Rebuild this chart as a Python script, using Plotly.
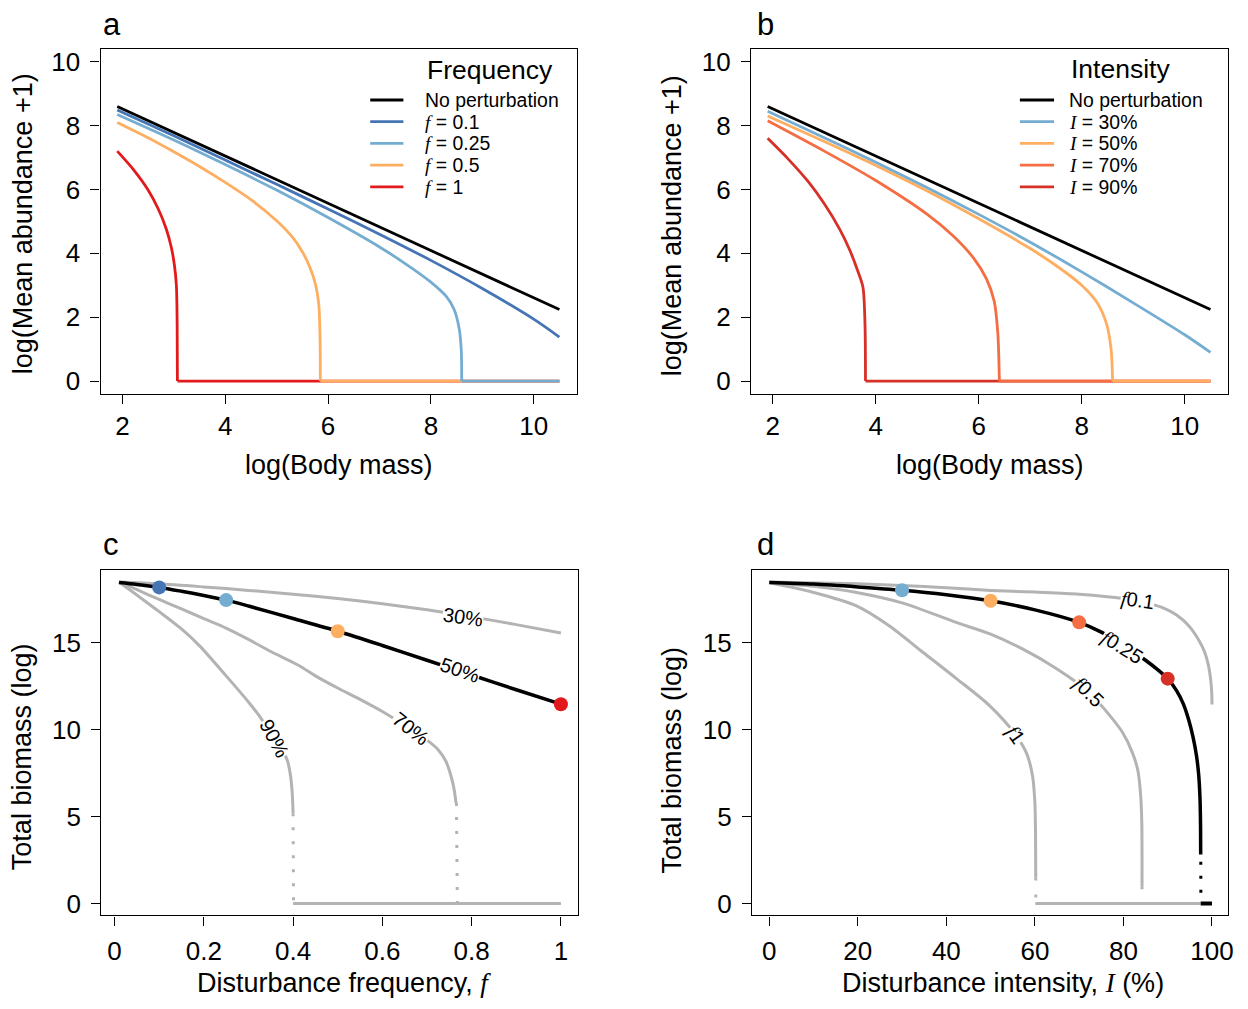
import plotly.graph_objects as go

W, H = 1248, 1009


def px(x):
    return x / W


def py(y):
    return 1 - y / H


# ---------------- Panel a: frequency ----------------
bm_none = [1.9, 10.5]
ab_none = [8.60, 2.24]
bm_f01 = [1.9, 3.0, 4.0, 5.0, 6.0, 7.0, 8.0, 9.0, 10.0, 10.5]
ab_f01 = [8.49, 7.68, 6.92, 6.16, 5.39, 4.60, 3.78, 2.90, 1.94, 1.38]
bm_f025 = [1.9, 3.0, 4.0, 5.0, 6.0, 7.0, 7.5, 8.0, 8.3, 8.45, 8.55, 8.59, 8.6]
ab_f025 = [8.35, 7.55, 6.78, 5.98, 5.12, 4.20, 3.68, 3.10, 2.65, 2.25, 1.65, 1.00, 0.0]
bm_f05 = [1.9, 2.5, 3.0, 3.5, 4.0, 4.5, 5.0, 5.3, 5.5, 5.65, 5.76, 5.82, 5.845, 5.85]
ab_f05 = [8.10, 7.62, 7.18, 6.72, 6.22, 5.68, 5.02, 4.52, 4.05, 3.55, 3.00, 2.40, 1.30, 0.0]
bm_f1 = [1.9, 2.2, 2.5, 2.7, 2.85, 2.95, 3.01, 3.05, 3.065, 3.07]
ab_f1 = [7.20, 6.65, 5.98, 5.38, 4.78, 4.20, 3.65, 3.00, 1.80, 0.0]
bm_f025_zero = [8.6, 10.5]
bm_f05_zero = [5.85, 10.5]
bm_f1_zero = [3.07, 10.5]
ab_zero = [0.0, 0.0]

# ---------------- Panel b: intensity ----------------
bm_i30 = [1.9, 3.0, 4.0, 5.0, 6.0, 7.0, 8.0, 9.0, 10.0, 10.5]
ab_i30 = [8.45, 7.62, 6.85, 6.05, 5.22, 4.35, 3.42, 2.45, 1.45, 0.90]
bm_i50 = [1.9, 3.0, 4.0, 5.0, 6.0, 7.0, 7.5, 8.0, 8.3, 8.48, 8.57, 8.6]
ab_i50 = [8.30, 7.50, 6.75, 5.95, 5.08, 4.15, 3.62, 3.00, 2.45, 1.80, 1.00, 0.0]
bm_i70 = [1.9, 3.0, 4.0, 5.0, 5.5, 5.9, 6.15, 6.3, 6.37, 6.4]
ab_i70 = [8.15, 7.20, 6.28, 5.22, 4.55, 3.85, 3.20, 2.50, 1.50, 0.0]
bm_i90 = [1.9, 2.3, 2.7, 3.0, 3.3, 3.5, 3.65, 3.75, 3.79, 3.8]
ab_i90 = [7.60, 6.95, 6.22, 5.55, 4.75, 4.08, 3.45, 2.95, 1.80, 0.0]
bm_i50_zero = [8.6, 10.5]
bm_i70_zero = [6.4, 10.5]
bm_i90_zero = [3.8, 10.5]

# ---------------- Panel c: biomass vs frequency ----------------
freq_i50 = [0.01, 0.05, 0.1, 0.15, 0.2, 0.25, 0.3, 0.4, 0.5, 0.6, 0.7, 0.8, 0.9, 1.0]
bio_i50 = [18.47, 18.36, 18.19, 17.97, 17.73, 17.46, 17.12, 16.40, 15.67, 14.85, 14.00, 13.15, 12.30, 11.47]
freq_i30 = [0.01, 0.1, 0.2, 0.3, 0.4, 0.5, 0.6, 0.7, 0.8, 0.9, 1.0]
bio_i30 = [18.50, 18.40, 18.22, 18.02, 17.80, 17.55, 17.25, 16.90, 16.50, 16.05, 15.57]
freq_i70 = [0.01, 0.03, 0.06, 0.1, 0.15, 0.2, 0.25, 0.3, 0.35, 0.413, 0.45, 0.5, 0.55, 0.6,
            0.65, 0.7, 0.725, 0.742, 0.752, 0.759, 0.763, 0.765]
bio_i70 = [18.50, 18.30, 17.95, 17.50, 16.95, 16.40, 15.85, 15.20, 14.50, 13.70, 13.10, 12.40,
           11.75, 11.05, 10.25, 9.40, 8.85, 8.20, 7.50, 6.80, 6.20, 5.78]
freq_i90 = [0.01, 0.05, 0.1, 0.15, 0.19, 0.25, 0.3, 0.323, 0.357, 0.375, 0.387, 0.394, 0.398,
            0.4]
bio_i90 = [18.50, 17.75, 16.80, 15.80, 14.84, 13.10, 11.60, 10.84, 9.55, 8.85, 8.25, 7.40, 6.40,
           5.20]
freq_i70_gap = [0.766, 0.768]
bio_i70_gap = [5.78, 0.0]
freq_i90_gap = [0.4, 0.401]
bio_i90_gap = [5.20, 0.0]
freq_zero = [0.4, 1.0]
bio_zero = [0.0, 0.0]
freq_pts = [0.1, 0.25, 0.5, 1.0]
bio_pts = [18.19, 17.46, 15.67, 11.47]

# ---------------- Panel d: biomass vs intensity ----------------
int_f025 = [0, 10, 20, 30, 40, 50, 60, 70, 75, 80, 85, 88, 90, 92, 93.5, 94.7, 95.7, 96.5, 97.0,
            97.3, 97.42, 97.45]
bio_f025 = [18.47, 18.38, 18.22, 18.03, 17.77, 17.42, 16.90, 16.18, 15.62, 14.88, 14.00, 13.40,
            12.94, 12.25, 11.50, 10.60, 9.60, 8.50, 7.40, 6.00, 4.40, 2.82]
int_f01 = [0, 20, 30, 40, 50, 60, 70, 80, 85, 88.7, 92, 94.7, 96.8, 98.3, 99.2, 99.7, 99.95, 100]
bio_f01 = [18.50, 18.40, 18.30, 18.17, 18.02, 17.92, 17.80, 17.55, 17.30, 17.04, 16.60, 16.00,
           15.25, 14.50, 13.70, 12.90, 12.10, 11.45]
int_f05 = [0, 10, 19.7, 30, 42.2, 50, 57.2, 65, 72.2, 76, 79.7, 82, 83.3, 83.9, 84.15, 84.2]
bio_f05 = [18.47, 18.25, 17.90, 17.30, 16.18, 15.50, 14.65, 13.50, 12.17, 11.10, 9.88, 8.70,
           7.60, 6.20, 4.60, 1.00]
int_f1 = [0, 10, 19.7, 27, 34.7, 42, 49.7, 55.7, 58.2, 59.5, 60.0, 60.15, 60.2]
bio_f1 = [18.47, 17.90, 17.13, 16.00, 14.46, 13.00, 11.40, 9.69, 8.60, 7.30, 5.80, 4.00, 1.49]
int_f025_gap = [97.47, 97.5]
bio_f025_gap = [2.40, 0.0]
int_f05_gap = [84.2, 84.2]
bio_f05_gap = [1.00, 0.0]
int_f1_gap = [60.2, 60.2]
bio_f1_gap = [1.49, 0.0]
int_zero_grey = [60.1, 97.45]
int_zero_black = [97.45, 100]
bio_zero2 = [0.0, 0.0]
int_pts = [30, 50, 70, 90]
bio_pts2 = [18.03, 17.42, 16.18, 12.94]

# ---------------- colours / fonts ----------------
BLACK = "#000000"
DBLUE = "#4575b4"
LBLUE = "#74add1"
ORANGE = "#fdae61"
ORED = "#f46d43"
RED_A = "#e31a1c"
RED_B = "#d73027"
GREY = "#b3b3b3"
SANS = "Liberation Sans, Arial, sans-serif"
SERIF = "Liberation Serif"


def ital(ch):
    return "<i><span style='font-family:%s'>%s</span></i>" % (SERIF, ch)


fig = go.Figure()


def line(x, y, color, ax, width=2.8, dash="solid", smooth=True):
    fig.add_trace(go.Scatter(x=x, y=y, mode="lines", xaxis="x" + ax, yaxis="y" + ax,
                             line=dict(color=color, width=width, dash=dash,
                                       shape="spline" if smooth else "linear",
                                       smoothing=0.8),
                             showlegend=False, hoverinfo="skip"))


# panel a: zero-level segments first (red, orange, light blue order), then curves
line(bm_f1_zero, ab_zero, RED_A, "", smooth=False)
line(bm_f05_zero, ab_zero, ORANGE, "", smooth=False)
line(bm_f025_zero, ab_zero, LBLUE, "", smooth=False)
line(bm_f1, ab_f1, RED_A, "")
line(bm_f05, ab_f05, ORANGE, "")
line(bm_f025, ab_f025, LBLUE, "")
line(bm_f01, ab_f01, DBLUE, "")
line(bm_none, ab_none, BLACK, "", smooth=False)

# panel b
line(bm_i90_zero, ab_zero, RED_B, "2", smooth=False)
line(bm_i70_zero, ab_zero, ORED, "2", smooth=False)
line(bm_i50_zero, ab_zero, ORANGE, "2", smooth=False)
line(bm_i90, ab_i90, RED_B, "2")
line(bm_i70, ab_i70, ORED, "2")
line(bm_i50, ab_i50, ORANGE, "2")
line(bm_i30, ab_i30, LBLUE, "2")
line(bm_none, ab_none, BLACK, "2", smooth=False)

# panel c
DOT = "3px,11px"
line(freq_i30, bio_i30, GREY, "3", 3)
line(freq_i70, bio_i70, GREY, "3", 3)
line(freq_i90, bio_i90, GREY, "3", 3)
line(freq_i70_gap, bio_i70_gap, GREY, "3", 3, DOT, smooth=False)
line(freq_i90_gap, bio_i90_gap, GREY, "3", 3, DOT, smooth=False)
line(freq_zero, bio_zero, GREY, "3", 3, smooth=False)
line(freq_i50, bio_i50, BLACK, "3", 3.5)
fig.add_trace(go.Scatter(x=freq_pts, y=bio_pts, mode="markers", xaxis="x3", yaxis="y3",
                         marker=dict(size=14, color=[DBLUE, LBLUE, ORANGE, RED_A]),
                         showlegend=False, hoverinfo="skip"))

# panel d
line(int_f01, bio_f01, GREY, "4", 3)
line(int_f05, bio_f05, GREY, "4", 3)
line(int_f1, bio_f1, GREY, "4", 3)
line(int_f05_gap, bio_f05_gap, GREY, "4", 3, "3px,14px", smooth=False)
line(int_f1_gap, bio_f1_gap, GREY, "4", 3, "3px,14px", smooth=False)
line(int_zero_grey, bio_zero2, GREY, "4", 3, smooth=False)
line(int_f025, bio_f025, BLACK, "4", 3.5)
line(int_f025_gap, bio_f025_gap, BLACK, "4", 3, DOT, smooth=False)
line(int_zero_black, bio_zero2, BLACK, "4", 4, smooth=False)
fig.add_trace(go.Scatter(x=int_pts, y=bio_pts2, mode="markers", xaxis="x4", yaxis="y4",
                         marker=dict(size=14, color=[LBLUE, ORANGE, ORED, RED_B]),
                         showlegend=False, hoverinfo="skip"))

# ---------------- axes ----------------
TICKFONT = dict(family=SANS, size=26, color="black")


def axis(domain, rng, tickvals, anchor, standoff):
    return dict(domain=domain, range=rng, tickvals=tickvals, anchor=anchor,
                showline=True, mirror=True, linecolor="black", linewidth=1.2,
                ticks="outside", ticklen=9, tickwidth=1.2, tickcolor="black",
                showgrid=False, zeroline=False, tickfont=TICKFONT,
                ticklabelstandoff=standoff)


xa_dom = [px(101), px(579)]
xb_dom = [px(754), px(1232.7)]
xc_dom = [px(101.7), px(580)]
xd_dom = [px(755), px(1233.3)]
top_dom = [py(394), py(47)]
bot_dom = [py(918), py(570.7)]

bm_ticks = [2, 4, 6, 8, 10]
ab_ticks = [0, 2, 4, 6, 8, 10]
freq_ticks = [0, 0.2, 0.4, 0.6, 0.8, 1.0]
freq_ticktext = ["0", "0.2", "0.4", "0.6", "0.8", "1"]
int_ticks = [0, 20, 40, 60, 80, 100]
bio_ticks = [0, 5, 10, 15]

fig.update_layout(
    width=W, height=H, margin=dict(l=0, r=0, t=0, b=0),
    paper_bgcolor="white", plot_bgcolor="white", showlegend=False,
    xaxis=axis(xa_dom, [1.576, 10.836], bm_ticks, "y", 0),
    yaxis=axis(top_dom, [-0.405, 10.405], ab_ticks, "x", 5),
    xaxis2=axis(xb_dom, [1.576, 10.836], bm_ticks, "y2", 0),
    yaxis2=axis(top_dom, [-0.405, 10.405], ab_ticks, "x2", 5),
    xaxis3=axis(xc_dom, [-0.0297, 1.0376], freq_ticks, "y3", 3),
    yaxis3=axis(bot_dom, [-0.687, 19.2], bio_ticks, "x3", 5),
    xaxis4=axis(xd_dom, [-3.9, 103.7], int_ticks, "y4", 3),
    yaxis4=axis(bot_dom, [-0.687, 19.2], bio_ticks, "x4", 5),
)
fig.layout.xaxis3.ticktext = freq_ticktext

ann = []


def text(x, y, s, size, anchor="center", angle=0, ref=("paper", "paper"), bg=None, pad=1):
    d = dict(x=x, y=y, xref=ref[0], yref=ref[1], text=s, showarrow=False,
             xanchor=anchor, yanchor="middle", textangle=angle, borderpad=pad,
             font=dict(family=SANS, size=size, color="black"))
    if bg:
        d["bgcolor"] = bg
        d["borderpad"] = 0
    ann.append(d)


# panel letters
text(px(112.5), py(23), "a", 31)
text(px(769), py(23), "b", 31)
text(px(111), py(545), "c", 31)
text(px(769), py(545), "d", 31)

# axis titles
TSZ = 27
text(px(340.8), py(465.5), "log(Body mass)", TSZ)
text(px(994), py(465.5), "log(Body mass)", TSZ)
text(px(345.8), py(986), "Disturbance frequency, " + ital("f"), TSZ)
text(px(1006.7), py(986), "Disturbance intensity, " + ital("I") + " (%)", TSZ)
text(px(23), py(222.5), "log(Mean abundance +1)", TSZ, angle=-90)
text(px(675), py(225), "log(Mean abundance +1)", TSZ, angle=-90)
text(px(22), py(758), "Total biomass (log)", TSZ, angle=-90)
text(px(675), py(762), "Total biomass (log)", TSZ, angle=-90)

# legends (drawn manually)
leg_a_labels = ["No perturbation", ital("f") + " = 0.1", ital("f") + " = 0.25",
                ital("f") + " = 0.5", ital("f") + " = 1"]
leg_a_colors = [BLACK, DBLUE, LBLUE, ORANGE, RED_A]
leg_b_labels = ["No perturbation", ital("I") + " = 30%", ital("I") + " = 50%",
                ital("I") + " = 70%", ital("I") + " = 90%"]
leg_b_colors = [BLACK, LBLUE, ORANGE, ORED, RED_B]
leg_rows = [98.5, 120.3, 142.1, 163.9, 185.7]

shapes = []
for labels, colors, x0, x1, xt, title, ty in [
        (leg_a_labels, leg_a_colors, 371.7, 405, 426, "Frequency", 68.3),
        (leg_b_labels, leg_b_colors, 1024, 1058.3, 1072, "Intensity", 67.5)]:
    text(px(xt + 1), py(ty), title, 26.5, anchor="left")
    for lab, col, yy in zip(labels, colors, leg_rows):
        shapes.append(dict(type="line", xref="paper", yref="paper",
                           x0=px(x0), x1=px(x1), y0=py(yy), y1=py(yy),
                           line=dict(color=col, width=2.8)))
        text(px(xt), py(yy), lab, 19.4, anchor="left", pad=0)

# inline contour labels
LSZ = 20
text(0.78, 16.5, "30%", LSZ, angle=8, ref=("x3", "y3"), bg="white")
text(0.773, 13.45, "50%", LSZ, angle=19, ref=("x3", "y3"), bg="white")
text(0.665, 10.07, "70%", LSZ, angle=38, ref=("x3", "y3"), bg="white")
text(0.357, 9.5, "90%", LSZ, angle=62, ref=("x3", "y3"), bg="white")
text(83.1, 17.42, ital("f") + "0.1", LSZ, angle=8, ref=("x4", "y4"), bg="white")
text(79.7, 14.75, ital("f") + "0.25", LSZ, angle=32, ref=("x4", "y4"), bg="white")
text(72.2, 12.17, ital("f") + "0.5", LSZ, angle=45, ref=("x4", "y4"), bg="white")
text(55.7, 9.69, ital("f") + "1", LSZ, angle=55, ref=("x4", "y4"), bg="white")

fig.update_layout(annotations=ann, shapes=shapes)
fig.write_html("out.html")
